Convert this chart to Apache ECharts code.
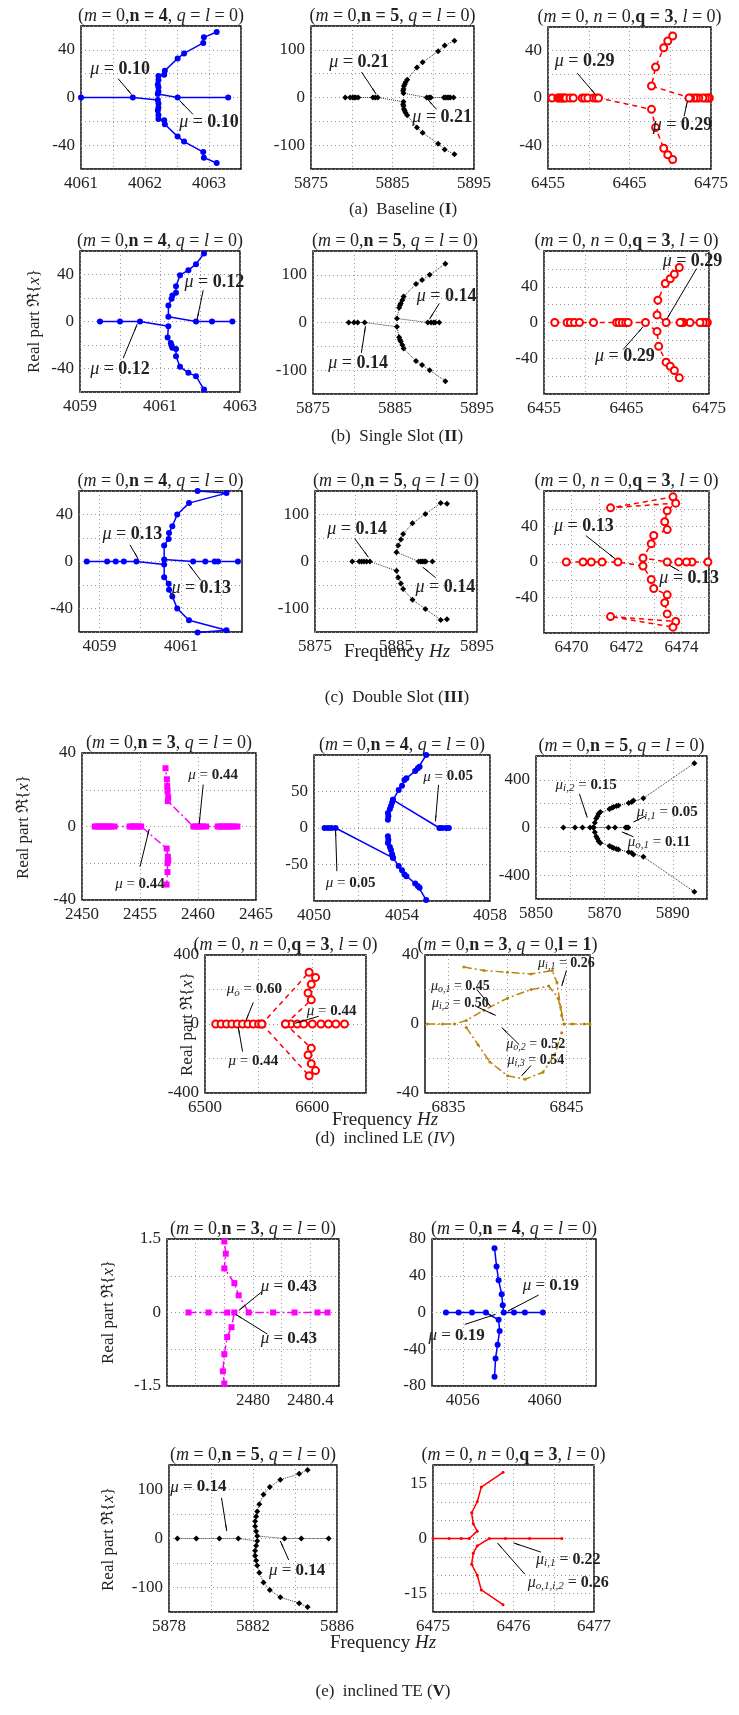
<!DOCTYPE html>
<html>
<head>
<meta charset="utf-8">
<script src="https://cdn.jsdelivr.net/npm/echarts@6/dist/echarts.min.js"></script>
<style>
html,body{margin:0;padding:0;background:#fff}
#chart{width:739px;height:1715px}
</style>
</head>
<body>
<div id="chart"></div>
<script>
// ---------- root-locus traces (frequency Hz, real part) ----------
// (a) Baseline
const a1Left  = [[4061,0],[4061.81,0],[4062.2,-2],[4062.21,-5],[4062.21,-8.6],[4062.2,-11],[4062.21,-14.7],[4062.21,-18],[4062.3,-19],[4062.31,-22.5],[4062.51,-32.8],[4062.61,-37],[4062.91,-45.8],[4062.92,-50.5],[4063.12,-55]];
const a1Right = [[4063.3,0],[4062.51,0],[4062.2,3],[4062.21,5],[4062.21,8.6],[4062.2,11],[4062.21,14.7],[4062.21,18],[4062.3,19],[4062.31,22.5],[4062.51,32.8],[4062.61,37],[4062.91,45.8],[4062.92,50.5],[4063.12,55]];
const a2Left  = [[5879.2,0],[5879.8,0],[5880.1,0],[5880.3,0],[5880.5,0],[5880.8,0],[5882.6,0],[5882.9,0],[5883.2,0],[5886.35,-9],[5886.3,-14],[5886.35,-18],[5886.4,-24],[5886.5,-28],[5886.6,-32],[5886.8,-37],[5888.0,-63],[5888.7,-74],[5890.6,-97],[5891.4,-109],[5892.6,-119]];
const a2Right = [[5892.5,0],[5892.1,0],[5891.9,0],[5891.7,0],[5891.5,0],[5891.3,0],[5889.7,0],[5889.5,0],[5889.2,0],[5886.35,9],[5886.3,14],[5886.35,18],[5886.4,24],[5886.5,28],[5886.6,32],[5886.8,37],[5888.0,63],[5888.7,74],[5890.6,97],[5891.4,109],[5892.6,119]];
const a3Left  = [[6455.5,0],[6456.2,0],[6456.4,0],[6456.6,0],[6456.8,0],[6457.0,0],[6457.2,0],[6457.7,0],[6458.1,0],[6459.2,0],[6459.5,0],[6459.9,0],[6460.6,0],[6460.9,0],[6461.2,0],[6467.7,-9.6],[6468.2,-25],[6469.2,-42.5],[6469.7,-48],[6470.3,-52]];
const a3Right = [[6474.8,0],[6474.6,0],[6474.3,0],[6474.0,0],[6473.5,0],[6473.2,0],[6472.9,0],[6472.5,0],[6472.3,0],[6467.7,10.1],[6468.2,26.2],[6469.2,42.5],[6469.7,48.2],[6470.3,52.4]];
// (b) Single slot
const b1Left  = [[4059.5,0],[4060,0],[4060.5,0],[4061.21,-4],[4061.19,-13.6],[4061.27,-18.2],[4061.29,-20.7],[4061.31,-22.4],[4061.4,-23.5],[4061.4,-29.5],[4061.5,-38.6],[4061.71,-43.7],[4061.9,-46.5],[4062.1,-57.9]];
const b1Right = [[4062.81,0],[4062.3,0],[4061.9,0],[4061.21,4],[4061.21,13.6],[4061.29,19.3],[4061.31,22.1],[4061.4,24.4],[4061.4,30],[4061.5,39.4],[4061.71,43.7],[4061.9,48.8],[4062.1,57.9]];
const b2Left  = [[5879.35,0],[5880,0],[5880.45,0],[5881.3,0],[5885.24,-9],[5885.5,-31],[5885.6,-36],[5885.7,-40],[5885.9,-47],[5886.05,-54.5],[5887.56,-80.7],[5888.3,-89],[5889.23,-100],[5891.14,-123]];
const b2Right = [[5890.4,0],[5889.9,0],[5889.7,0],[5889.4,0],[5889.0,0],[5885.24,8.3],[5885.5,31],[5885.6,36],[5885.7,40],[5885.9,47],[5886.05,54.5],[5887.56,80.7],[5888.3,89],[5889.23,100],[5891.14,123]];
const b3Left  = [[6456.3,0],[6457.8,0],[6458.2,0],[6458.7,0],[6459.3,0],[6461.0,0],[6463.8,0],[6464.1,0],[6464.5,0],[6464.9,0],[6465.2,0],[6467.3,0],[6468.7,-10],[6468.9,-26.7],[6469.8,-44.4],[6470.3,-49],[6470.8,-53.7],[6471.4,-61.9]];
const b3Right = [[6474.8,0],[6474.6,0],[6474.3,0],[6473.9,0],[6472.7,0],[6471.9,0],[6471.7,0],[6471.5,0],[6469.8,0],[6468.7,8.5],[6468.8,25],[6469.7,43.7],[6470.3,49],[6470.8,54],[6471.4,61.5]];
// (c) Double slot
const c1Left  = [[4058.69,0],[4059.19,0],[4059.4,0],[4059.6,0],[4059.91,0],[4060.59,-2.5],[4060.59,-13.3],[4060.7,-19],[4060.71,-24],[4060.79,-29.7],[4060.91,-40],[4061.2,-50],[4062.12,-58.5],[4061.41,-60.5]];
const c1Right = [[4062.4,0],[4061.91,0],[4061.83,0],[4061.6,0],[4061.3,0],[4060.59,1.7],[4060.59,13.6],[4060.7,19.2],[4060.71,24.3],[4060.79,30],[4060.91,40],[4061.2,49.7],[4062.12,58.2],[4061.41,59.9]];
const c2Left  = [[5879.6,0],[5880.46,0],[5880.75,0],[5881.04,0],[5881.37,0],[5881.78,0],[5885.06,-19.8],[5885.27,-33.9],[5885.6,-46.6],[5885.88,-58.7],[5887.03,-81.3],[5888.63,-101],[5890.52,-124.4],[5891.3,-123]];
const c2Right = [[5889.5,0],[5888.68,0],[5888.47,0],[5888.26,0],[5888.06,0],[5887.8,0],[5885.06,19.8],[5885.27,33.9],[5885.6,46.6],[5885.88,58.7],[5887.03,81.3],[5888.63,101],[5890.52,124.4],[5891.3,123]];
const c3Left  = [[6469.81,0],[6470.42,0],[6470.72,0],[6471.11,0],[6471.69,0],[6472.6,-4.5],[6472.9,-19.7],[6472.99,-29.8],[6473.48,-37],[6473.39,-45.8],[6473.48,-58.5],[6473.79,-67],[6471.42,-61.5],[6473.69,-73.4]];
const c3Right = [[6474.96,0],[6474.38,0],[6474.18,0],[6473.9,0],[6473.48,0],[6472.6,4.5],[6472.9,20.5],[6472.99,29.8],[6473.48,36.5],[6473.39,45.4],[6473.48,57.7],[6473.79,66.3],[6471.42,61],[6473.69,73.4]];
// (d) inclined LE
const d1Left  = [[2451.1,0],[2451.3,0],[2451.5,0],[2451.7,0],[2451.9,0],[2452.1,0],[2452.3,0],[2452.5,0],[2452.8,0],[2454.1,0],[2454.3,0],[2454.5,0],[2454.7,0],[2454.9,0],[2455.1,0],[2457.3,-12],[2457.4,-16.5],[2457.43,-18.3],[2457.37,-20],[2457.37,-24.8],[2457.29,-31.6]];
const d1Right = [[2463.4,0],[2463.1,0],[2462.9,0],[2462.7,0],[2462.5,0],[2462.3,0],[2462.1,0],[2461.9,0],[2461.7,0],[2460.7,0],[2460.4,0],[2460.2,0],[2460.0,0],[2459.8,0],[2459.6,0],[2457.4,13.8],[2457.43,16],[2457.37,19.3],[2457.35,22],[2457.32,25.7],[2457.2,31.7]];
const d2Left  = [[4050.48,0],[4050.64,0],[4050.79,0],[4050.98,0],[4053.59,-40.9],[4053.85,-52],[4054.0,-58],[4054.11,-63.6],[4054.2,-66],[4054.6,-76],[4054.72,-79.5],[4054.8,-82],[4055.1,-98.6]];
const d2LowStub = [[4053.36,-11.4],[4053.38,-16],[4053.36,-20.5],[4053.45,-26],[4053.5,-30],[4053.55,-36],[4053.59,-40.9]];
const d2Right = [[4056.13,0],[4056.0,0],[4055.82,0],[4055.7,0],[4053.59,38.6],[4053.85,52],[4054.0,58],[4054.11,65.9],[4054.2,68],[4054.6,78],[4054.72,81.8],[4054.8,84],[4055.1,100]];
const d2UpStub = [[4053.36,11.4],[4053.38,16],[4053.36,20.5],[4053.45,26],[4053.5,30],[4053.55,35],[4053.59,38.6]];
const d3Axis  = [[5858,0],[5861.4,0],[5863.6,0],[5865.8,0],[5866.8,0],[5871.2,0],[5873.1,0],[5876.2,0],[5876.6,0],[5877,0]];
const d3Upper = [[5866.8,0],[5867.2,40],[5867.6,75],[5868,95],[5868.3,116],[5868.8,130],[5871.5,155],[5872.2,165],[5872.7,172],[5873.5,180],[5874.1,185],[5877.1,205],[5878,215],[5878.5,227],[5881.4,246],[5896.3,540]];
const d3Lower = [[5866.8,0],[5867.2,-40],[5867.6,-75],[5868,-95],[5868.3,-116],[5868.8,-130],[5871.5,-155],[5872.2,-165],[5872.7,-172],[5873.5,-180],[5874.1,-185],[5877.1,-205],[5878,-215],[5878.5,-227],[5881.4,-246],[5896.3,-540]];
const d4Upper = [[6510,0],[6515,0],[6520,0],[6525,0],[6530,0],[6535,0],[6540,0],[6545,0],[6550,0],[6553,0],[6597,300],[6603,270],[6599,230],[6596,180],[6599,140],[6575,0],[6580,0],[6586,0],[6592,0],[6600,0],[6608,0],[6615,0],[6622,0],[6630,0]];
const d4Lower = [[6553,0],[6597,-300],[6603,-270],[6599,-230],[6596,-180],[6599,-140],[6575,0]];
const d5Axis  = [[6833.2,0],[6834.5,0],[6835.5,0],[6836.5,2],[6838,8],[6840,15],[6842,20],[6843.5,22],[6844.3,15],[6844.6,5],[6844.8,0],[6845.5,0],[6846.5,0],[6847,0]];
const d5Upper = [[6836.3,33],[6838,31],[6840,30],[6842,29],[6843.8,31],[6844.2,24],[6844.5,10],[6844.8,0]];
const d5Lower = [[6836.5,-2],[6837.5,-12],[6838.5,-22],[6840,-30],[6841.5,-32],[6843,-28],[6844,-18],[6844.6,-5]];
// (e) inclined TE
const e1Left  = [[2479.55,0],[2479.69,0],[2479.82,0],[2479.87,0],[2479.85,-0.3],[2479.82,-0.5],[2479.8,-0.85],[2479.79,-1.2],[2479.8,-1.45]];
const e1Right = [[2480.52,0],[2480.45,0],[2480.29,0],[2480.14,0],[2479.97,0],[2479.9,0.35],[2479.87,0.6],[2479.8,0.9],[2479.81,1.2],[2479.8,1.45]];
const e2Left  = [[4055.18,0],[4055.8,0],[4056.45,0],[4057.13,0],[4057.75,-8],[4057.8,-20],[4057.7,-35],[4057.6,-50],[4057.55,-70]];
const e2Right = [[4059.91,0],[4059.03,0],[4058.5,0],[4058.0,0],[4057.95,8],[4057.9,20],[4057.75,35],[4057.65,50],[4057.55,70]];
const e3Left  = [[5878.4,0],[5879.3,0],[5880.4,0],[5881.3,0],[5882.2,-5],[5882.15,-15],[5882.1,-25],[5882.1,-35],[5882.15,-45],[5882.2,-55],[5882.3,-70],[5882.5,-90],[5882.8,-105],[5883.3,-120],[5884.2,-132],[5884.6,-140]];
const e3Right = [[5885.6,0],[5884.3,0],[5883.5,0],[5882.2,5],[5882.15,15],[5882.1,25],[5882.1,35],[5882.15,45],[5882.2,55],[5882.3,70],[5882.5,90],[5882.8,105],[5883.3,120],[5884.2,132],[5884.6,140]];
const e4Left  = [[6475,0],[6475.2,0],[6475.35,0],[6475.45,0],[6475.55,2],[6475.5,4],[6475.48,7],[6475.55,10],[6475.6,14],[6475.87,18]];
const e4Right = [[6476.6,0],[6476.2,0],[6475.9,0],[6475.7,0],[6475.55,-2],[6475.5,-4],[6475.48,-7],[6475.55,-10],[6475.6,-14],[6475.87,-18]];

// ---------- tick labels ----------
const a1XTicks = [4061, 4062, 4063], a1YTicks = [-40, 0, 40];
const a2XTicks = [5875, 5885, 5895], a2YTicks = [-100, 0, 100];
const a3XTicks = [6455, 6465, 6475], a3YTicks = [-40, 0, 40];
const b1XTicks = [4059, 4061, 4063], b1YTicks = [-40, 0, 40];
const b2XTicks = [5875, 5885, 5895], b2YTicks = [-100, 0, 100];
const b3XTicks = [6455, 6465, 6475], b3YTicks = [-40, 0, 40];
const c1XTicks = [4059, 4061], c1YTicks = [-40, 0, 40];
const c2XTicks = [5875, 5885, 5895], c2YTicks = [-100, 0, 100];
const c3XTicks = [6470, 6472, 6474], c3YTicks = [-40, 0, 40];
const d1XTicks = [2450, 2455, 2460, 2465], d1YTicks = [-40, 0, 40];
const d2XTicks = [4050, 4054, 4058], d2YTicks = [-50, 0, 50];
const d3XTicks = [5850, 5870, 5890], d3YTicks = [-400, 0, 400];
const d4XTicks = [6500, 6600], d4YTicks = [-400, 0, 400];
const d5XTicks = [6835, 6845], d5YTicks = [-40, 0, 40];
const e1XTicks = [2480, 2480.4], e1YTicks = [-1.5, 0, 1.5];
const e2XTicks = [4056, 4060], e2YTicks = [-80, -40, 0, 40, 80];
const e3XTicks = [5878, 5882, 5886], e3YTicks = [-100, 0, 100];
const e4XTicks = [6475, 6476, 6477], e4YTicks = [-15, 0, 15];

// ---------- styles ----------
const SERIF = '"Liberation Serif","Times New Roman",serif';
const INK = '#222';
const BLUE    = {line:'#0000ff', dash:'solid', width:1.5, symbol:'circle', size:6, fill:'#0000ff'};
const BLACK   = {line:'#333', dash:'dotted', width:1, symbol:'diamond', size:6, fill:'#000'};
const RED     = {line:'#ff0000', dash:[5,4], width:1.5, symbol:'emptyCircle', size:7, fill:'#ff0000'};
const MAGENTA = {line:'#ff00ff', dash:[8,3,2,3], width:1.5, symbol:'rect', size:6, fill:'#ff00ff'};
const OLIVE   = {line:'#b8860b', dash:[8,3,2,3], width:1.5, symbol:'circle', size:3, fill:'#b8860b'};
const REDS    = {line:'#ff0000', dash:'solid', width:1.5, symbol:'circle', size:3, fill:'#ff0000'};

function rich(fs) {
  return {
    rm:{fontFamily:SERIF, fontSize:fs, color:INK, fill:INK},
    it:{fontFamily:SERIF, fontSize:fs, fontStyle:'italic', color:INK, fill:INK},
    bd:{fontFamily:SERIF, fontSize:fs, fontWeight:'bold', color:INK, fill:INK},
    sb:{fontFamily:SERIF, fontSize:Math.round(fs*0.7), fontStyle:'italic', color:INK, fill:INK, padding:[Math.round(fs*0.45),0,0,0]}
  };
}

const mu = v => '{it|μ}{rm| = }{bd|' + v + '}';
const muS = (s, v) => '{it|μ}{sb|' + s + '}{rm| = }{bd|' + v + '}';

const T3 = '{rm|(}{it|m}{rm| = 0,}{bd|n = 3}{rm|, }{it|q}{rm| = }{it|l}{rm| = 0)}';
const T4 = '{rm|(}{it|m}{rm| = 0,}{bd|n = 4}{rm|, }{it|q}{rm| = }{it|l}{rm| = 0)}';
const T5 = '{rm|(}{it|m}{rm| = 0,}{bd|n = 5}{rm|, }{it|q}{rm| = }{it|l}{rm| = 0)}';
const TQ = '{rm|(}{it|m}{rm| = 0, }{it|n}{rm| = 0,}{bd|q = 3}{rm|, }{it|l}{rm| = 0)}';
const TL = '{rm|(}{it|m}{rm| = 0,}{bd|n = 3}{rm|, }{it|q}{rm| = 0,}{bd|l = 1}{rm|)}';

// panel layout: box = [left, top, width, height]; xr / yr = [min, max, interval]
// gridCycle: which x split lines are drawn (repeating on/off pattern)
// notes = [text, textX, textY, arrowFromX, arrowFromY, arrowToX, arrowToY] in data units
const panels = [
  {box:[81,26,160,143], xr:[4061,4063.5,0.5], yr:[-60,60,20], xt:a1XTicks, yt:a1YTicks, title:T4,
   traces:[[a1Left,BLUE],[a1Right,BLUE]], fs:18,
   notes:[[mu('0.10'),4061.61,23.3,4061.58,15.8,4061.79,2.5],[mu('0.10'),4063.0,-20.8,4062.75,-14.2,4062.54,-2.5]]},
  {box:[311,26,163,143], xr:[5875,5895,5], yr:[-150,150,50], xt:a2XTicks, yt:a2YTicks, title:T5,
   traces:[[a2Left,BLACK],[a2Right,BLACK]], fs:18,
   notes:[[mu('0.21'),5880.9,74.6,5881.2,53.5,5883.0,7],[mu('0.21'),5891.1,-41.6,5890.4,-24.7,5889.3,-3.6]]},
  {box:[548,27,163,142], xr:[6455,6475,5], yr:[-60,60,20], xt:a3XTicks, yt:a3YTicks, title:TQ,
   traces:[[a3Left,RED],[a3Right,RED]], fs:18,
   notes:[[mu('0.29'),6459.5,31.1,6458.6,20.9,6460.8,3.1],[mu('0.29'),6471.5,-23.1,6471.7,-15.5,6472.1,-2.8]]},

  {box:[80,251,160,141], xr:[4059,4063,1], yr:[-60,60,20], xt:b1XTicks, yt:b1YTicks, title:T4,
   traces:[[b1Left,BLUE],[b1Right,BLUE]], fs:18,
   notes:[[mu('0.12'),4062.36,33.4,4062.08,26.6,4061.93,2],[mu('0.12'),4060.0,-40.6,4060.08,-31.2,4060.43,-2.3]]},
  {box:[313,251,164,143], xr:[5875,5895,5], yr:[-150,150,50], xt:b2XTicks, yt:b2YTicks, title:T5,
   traces:[[b2Left,BLACK],[b2Right,BLACK]], fs:18,
   notes:[[mu('0.14'),5891.3,54.5,5890.4,40,5889.2,6.8],[mu('0.14'),5880.5,-86,5880.9,-63.6,5881.4,-7.7]]},
  {box:[544,251,165,143], xr:[6455,6475,5], yr:[-80,80,20], xt:b3XTicks, yt:b3YTicks, title:TQ,
   traces:[[b3Left,RED],[b3Right,RED]], fs:18,
   notes:[[mu('0.29'),6473.0,68.5,6473.5,60.4,6469.9,4.1],[mu('0.29'),6464.8,-37.9,6464.6,-30.2,6467.0,-4.8]]},

  {box:[79,491,163,141], xr:[4058.5,4062.5,0.5], yr:[-60,60,20], xt:c1XTicks, yt:c1YTicks, title:T4, gridCycle:[0,1],
   traces:[[c1Left,BLUE],[c1Right,BLUE]], fs:18,
   notes:[[mu('0.13'),4059.81,22.9,4059.75,14.2,4059.95,2.3],[mu('0.13'),4061.5,-22.9,4061.49,-16.1,4061.18,-1.9]]},
  {box:[315,491,162,141], xr:[5875,5895,5], yr:[-150,150,50], xt:c2XTicks, yt:c2YTicks, title:T5,
   traces:[[c2Left,BLACK],[c2Right,BLACK]], fs:18,
   notes:[[mu('0.14'),5880.2,67.7,5879.9,48.6,5881.6,9.1],[mu('0.14'),5891.1,-55,5889.9,-34.5,5888.3,-12.1]]},
  {box:[544,491,165,142], xr:[6469,6475,1], yr:[-80,80,20], xt:c3XTicks, yt:c3YTicks, title:TQ,
   traces:[[c3Left,RED],[c3Right,RED]], fs:18,
   notes:[[mu('0.13'),6470.45,39.9,6470.52,29.8,6471.58,3.8],[mu('0.13'),6474.28,-17.9,6473.92,-10,6473.56,-3.7]]},

  {box:[82,753,174,147], xr:[2450,2465,5], yr:[-40,40,20], xt:d1XTicks, yt:d1YTicks, title:T3,
   traces:[[d1Left,MAGENTA],[d1Right,MAGENTA]], fs:15,
   notes:[[mu('0.44'),2461.3,27.8,2460.45,22.8,2460.1,1.3],[mu('0.44'),2455.0,-31.5,2455,-21.9,2455.8,-1.3]]},
  {box:[314,755,176,146], xr:[4050,4058,2], yr:[-100,100,50], xt:d2XTicks, yt:d2YTicks, title:T4,
   traces:[[d2Left,BLUE],[d2LowStub,BLUE],[d2Right,BLUE],[d2UpStub,BLUE]], fs:15,
   notes:[[mu('0.05'),4056.1,70.4,4055.66,59.1,4055.52,9],[mu('0.05'),4051.66,-76,4051.04,-59.2,4050.98,-2.3]]},
  {box:[536,756,171,143], xr:[5850,5900,10], yr:[-600,600,200], xt:d3XTicks, yt:d3YTicks, title:T5,
   traces:[[d3Axis,BLACK],[d3Upper,BLACK],[d3Lower,BLACK]], fs:15,
   notes:[[muS('i,2','0.15'),5864.65,357,5862.7,282,5865.0,83],[muS('i,1','0.05'),5888.4,129,5881.9,94,5878.5,46],[muS('o,1','0.11'),5886.0,-119.5,5878.5,-78,5875.1,-36.5]]},
  {box:[205,955,161,138], xr:[6500,6650,50], yr:[-400,400,200], xt:d4XTicks, yt:d4YTicks, title:TQ,
   traces:[[d4Upper,RED],[d4Lower,RED]], fs:15,
   notes:[[muS('o','0.60'),6546,200,6545,125,6538,18],[mu('0.44'),6618,75,6606,45,6584,4],[mu('0.44'),6545,-215,6535,-160,6531,-18]]},
  {box:[425,955,165,138], xr:[6833,6847,1], yr:[-40,40,20], xt:d5XTicks, yt:d5YTicks, title:TL, gridCycle:[0,0,1,0,0],
   traces:[[d5Axis,OLIVE],[d5Upper,OLIVE],[d5Lower,OLIVE]], fs:14,
   notes:[[muS('o,1','0.45'),6836.0,22,6837.4,20,6838.6,10],[muS('i,2','0.50'),6836.0,12,6837.4,10,6839.0,5],
          [muS('i,1','0.26'),6845.0,35,6845.0,31,6844.6,22],[muS('o,2','0.52'),6842.4,-12,6841.0,-12,6839.5,-2],
          [muS('i,3','0.54'),6842.4,-21,6842.0,-24,6841.2,-30]]},

  {box:[167,1239,172,147], xr:[2479.4,2480.6,0.2], yr:[-1.5,1.5,0.75], xt:e1XTicks, yt:e1YTicks, title:T3,
   traces:[[e1Left,MAGENTA],[e1Right,MAGENTA]], fs:17,
   notes:[[mu('0.43'),2480.25,0.52,2480.06,0.42,2479.9,0.04],[mu('0.43'),2480.25,-0.54,2480.1,-0.44,2479.88,-0.04]]},
  {box:[432,1239,164,147], xr:[4054.5,4062.5,0.5], yr:[-80,80,40], xt:e2XTicks, yt:e2YTicks, title:T4, gridCycle:[0,0,0,1],
   traces:[[e2Left,BLUE],[e2Right,BLUE]], fs:17,
   notes:[[mu('0.19'),4060.3,29,4059.7,19,4058.2,1.5],[mu('0.19'),4055.7,-25,4056.1,-13,4057.6,-2]]},
  {box:[169,1465,168,147], xr:[5878,5886,2], yr:[-150,150,50], xt:e3XTicks, yt:e3YTicks, title:T5,
   traces:[[e3Left,BLACK],[e3Right,BLACK]], fs:17,
   notes:[[mu('0.14'),5879.4,105,5880.5,83,5880.75,15],[mu('0.14'),5884.1,-66,5883.7,-44,5883.3,-5]]},
  {box:[433,1465,161,147], xr:[6475,6477,0.5], yr:[-20,20,5], xt:e4XTicks, yt:e4YTicks, title:TQ,
   traces:[[e4Left,REDS],[e4Right,REDS]], fs:16,
   notes:[[muS('i,1','0.22'),6476.68,-5.8,6476.34,-3.7,6476.0,-1.2],[muS('o,1,i,2','0.26'),6476.68,-12,6476.14,-9.7,6475.8,-1.2]]}
];

// ---------- build option ----------
const near = (a, b) => Math.abs(a - b) < 1e-6;
const tickFmt = ticks => v => { const t = ticks.find(k => near(k, v)); return t === undefined ? '' : String(t); };
const GRIDLINE = '#999', NONE = 'rgba(0,0,0,0)';

const grid = [], xAxis = [], yAxis = [], series = [], graphic = [];

panels.forEach((p, i) => {
  const [l, t, w, h] = p.box;
  grid.push({left:l, top:t, width:w, height:h, show:true, borderColor:'#000', borderWidth:1.4, backgroundColor:'#fff'});
  const split = {show:true, lineStyle:{color:GRIDLINE, type:[1,3], width:1}};
  const xSplit = p.gridCycle ? {show:true, lineStyle:{color:p.gridCycle.map(on => on ? GRIDLINE : NONE), type:[1,3], width:1}} : split;
  xAxis.push({type:'value', gridIndex:i, min:p.xr[0], max:p.xr[1], interval:p.xr[2],
    axisLine:{show:false}, axisTick:{show:false}, splitLine:xSplit,
    axisLabel:{formatter:tickFmt(p.xt), fontFamily:SERIF, fontSize:17, color:INK, margin:6, showMinLabel:true, showMaxLabel:true, hideOverlap:false}});
  yAxis.push({type:'value', gridIndex:i, min:p.yr[0], max:p.yr[1], interval:p.yr[2],
    axisLine:{show:false}, axisTick:{show:false}, splitLine:split,
    axisLabel:{formatter:tickFmt(p.yt), fontFamily:SERIF, fontSize:17, color:INK, margin:6, showMinLabel:true, showMaxLabel:true, hideOverlap:false}});

  p.traces.forEach(([data, s], k) => {
    const sr = {
      type:'line', xAxisIndex:i, yAxisIndex:i, data, clip:false, animation:false, silent:true,
      symbol:s.symbol, symbolSize:s.size, showSymbol:true, showAllSymbol:true,
      lineStyle:{color:s.line, width:s.width, type:s.dash},
      itemStyle:{color:s.fill, borderColor:s.fill, borderWidth:s.symbol === 'emptyCircle' ? 1.6 : 0},
      emphasis:{disabled:true}, z:3
    };
    if (k === 0 && p.notes.length) {
      sr.markLine = {silent:true, animation:false, symbol:['none','arrow'], symbolSize:[1,7], precision:6,
        lineStyle:{color:'#000', width:1, type:'solid'}, label:{show:false},
        data:p.notes.map(n => [{coord:[n[3], n[4]]}, {coord:[n[5], n[6]]}])};
      sr.markPoint = {silent:true, animation:false, symbol:'circle', symbolSize:1, itemStyle:{color:NONE},
        data:p.notes.map(n => ({coord:[n[1], n[2]], label:{show:true, position:'inside', formatter:n[0], rich:rich(p.fs)}}))};
    }
    series.push(sr);
  });

  graphic.push({type:'text', x:l + w / 2, y:t - 10, silent:true,
    style:{text:p.title, align:'center', verticalAlign:'middle', rich:rich(18), fontFamily:SERIF, fontSize:18, fill:INK}});
});

// captions and shared axis titles
const captions = [
  ['{rm|(a)  Baseline (}{bd|I}{rm|)}', 403, 210],
  ['{rm|(b)  Single Slot (}{bd|II}{rm|)}', 397, 437],
  ['{rm|(c)  Double Slot (}{bd|III}{rm|)}', 397, 698],
  ['{rm|(d)  inclined LE (}{it|IV}{rm|)}', 385, 1139],
  ['{rm|(e)  inclined TE (}{bd|V}{rm|)}', 383, 1692]
];
captions.forEach(([txt, x, y]) => graphic.push({type:'text', x, y, silent:true,
  style:{text:txt, align:'center', verticalAlign:'middle', rich:rich(17), fontFamily:SERIF, fontSize:17, fill:INK}}));

const freqTitles = [[397, 652], [385, 1120], [383, 1643]];
freqTitles.forEach(([x, y]) => graphic.push({type:'text', x, y, silent:true,
  style:{text:'{rm|Frequency }{it|Hz}', align:'center', verticalAlign:'middle', rich:rich(19), fontFamily:SERIF, fontSize:19, fill:INK}}));

const realTitles = [[35, 321], [24, 827], [188, 1024], [109, 1312], [109, 1539]];
realTitles.forEach(([x, y]) => graphic.push({type:'text', x, y, rotation:Math.PI / 2, silent:true,
  style:{text:'{rm|Real part ℜ\u007B}{it|x}{rm|\u007D}', align:'center', verticalAlign:'middle', rich:rich(17), fontFamily:SERIF, fontSize:17, fill:INK}}));

const chart = echarts.init(document.getElementById('chart'), null, {renderer:'canvas'});
chart.setOption({backgroundColor:'#fff', animation:false, grid, xAxis, yAxis, series, graphic});
</script>
</body>
</html>
